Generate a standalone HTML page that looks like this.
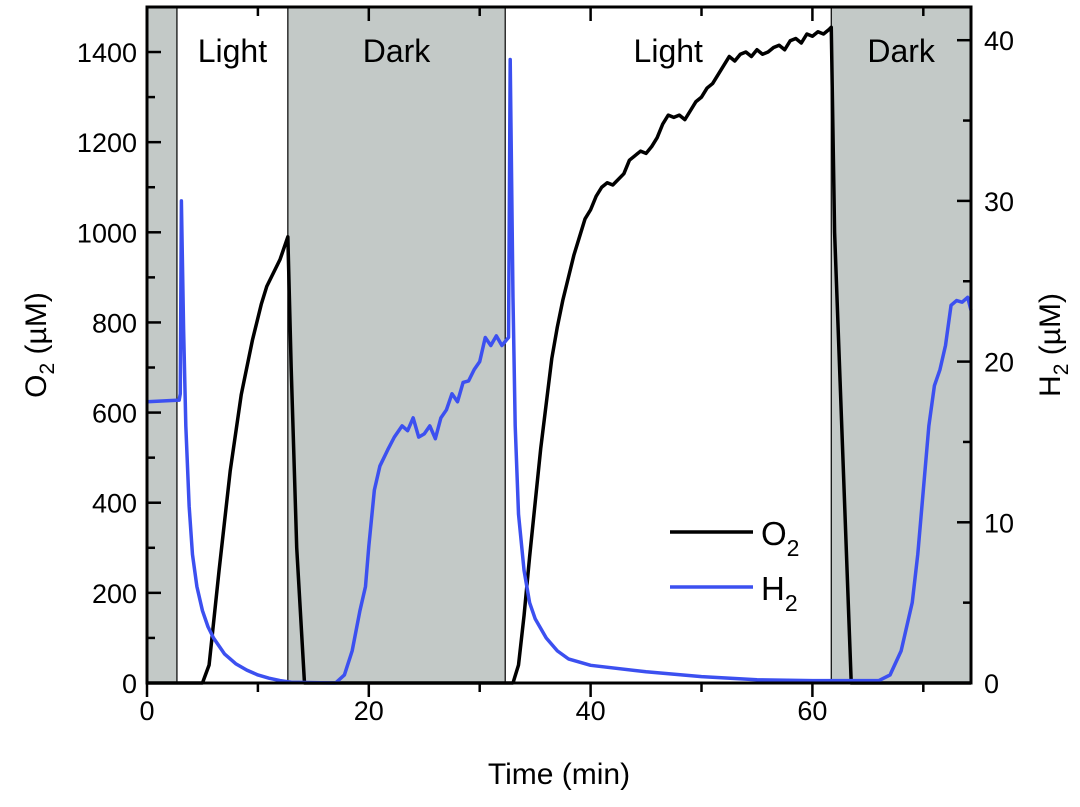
<!DOCTYPE html>
<html><head><meta charset="utf-8"><style>
body{margin:0;background:#fff}
svg text{font-family:"Liberation Sans",Arial,sans-serif;fill:#000}
</style></head><body>
<svg id="chart" width="1080" height="802" viewBox="0 0 1080 802" xmlns="http://www.w3.org/2000/svg">
<g id="shading"></g>
<g id="series"></g>
<g id="axes"></g>
<text x="559" y="784" font-size="30" text-anchor="middle">Time (min)</text>
<text transform="translate(46,345) rotate(-90)" font-size="30" text-anchor="middle">O<tspan font-size="21" dy="8">2</tspan><tspan dy="-8"> (µM)</tspan></text>
<text transform="translate(1042,345) rotate(90)" font-size="30" text-anchor="middle" transform-origin="0 0"></text>
<text transform="translate(1060,345) rotate(-90)" font-size="30" text-anchor="middle">H<tspan font-size="21" dy="8">2</tspan><tspan dy="-8"> (µM)</tspan></text>
<g>
<line x1="670" y1="532" x2="753" y2="532" stroke="#000" stroke-width="3.5"/>
<text x="761" y="545" font-size="33">O<tspan font-size="23" dy="11">2</tspan></text>
<line x1="670" y1="587" x2="753" y2="587" stroke="#3c50f0" stroke-width="3.5"/>
<text x="761" y="600" font-size="33">H<tspan font-size="23" dy="11">2</tspan></text>
</g>
</svg>
<script>
const phaseStarts=[0,2.7,12.7,32.3,61.7];
const phaseEnds=[2.7,12.7,32.3,61.7,74.3];
const phaseLabels=["","Light","Dark","Light","Dark"];
const o2Time=[0,5.0,5.6,6.5,7.5,8.5,9.5,10.3,10.8,11.2,12,12.7,13.0,13.5,14.2,33.0,33.5,34.0,34.5,35.0,35.5,36.0,36.5,37.0,37.5,38.0,38.5,39.0,39.5,40.0,40.5,41,41.5,42,43,43.5,44,44.5,45,45.5,46,46.5,47,47.5,48,48.5,49,49.5,50,50.5,51,51.5,52,52.5,53,53.5,54,54.5,55,55.5,56,56.5,57,57.5,58,58.5,59,59.5,60,60.5,61,61.5,61.7,62.0,63.5,74.3];
const o2Values=[0,0,40,250,470,640,760,840,880,900,940,990,700,300,0,0,40,150,280,400,520,620,720,790,850,900,950,990,1030,1050,1080,1100,1110,1105,1130,1160,1170,1180,1175,1190,1210,1240,1260,1255,1260,1250,1270,1290,1300,1320,1330,1350,1370,1390,1380,1395,1400,1390,1405,1395,1400,1410,1415,1405,1425,1430,1420,1440,1435,1445,1440,1450,1455,1000,0,0];
const h2Time=[0,2.9,3.0,3.1,3.3,3.5,3.8,4.1,4.5,5,5.5,6,7,8,9,10,11,12,13,17,17.8,18.5,19.2,19.7,20.0,20.5,21,21.7,22.3,23,23.5,24,24.5,25,25.5,26,26.5,27,27.5,28,28.5,29,29.5,30,30.5,31,31.5,32,32.6,32.75,33.0,33.2,33.5,34,34.5,35,36,37,38,40,45,50,55,60,66,67,68,69,69.5,70,70.5,71,71.5,72,72.5,73,73.5,74,74.3];
const h2Values=[17.5,17.6,18,30,22,16,11,8,6,4.5,3.5,2.8,1.8,1.2,0.8,0.5,0.3,0.15,0.05,0,0.5,2,4.5,6,8.5,12,13.5,14.5,15.3,16,15.7,16.5,15.3,15.5,16,15.2,16.5,17,18,17.5,18.7,18.8,19.5,20,21.5,21,21.6,21,21.5,38.8,24,16,10.5,7,5,4,2.8,2,1.5,1.1,0.7,0.4,0.2,0.15,0.15,0.5,2,5,8,12,16,18.5,19.5,21,23.5,23.8,23.7,24,23.2];
const xTicks=[0,20,40,60];
const o2Ticks=[0,200,400,600,800,1000,1200,1400];
const h2Ticks=[0,10,20,30,40];

const L=147,R=971,T=7,B=683,XMAX=74.3;
const sx=v=>L+v*(R-L)/XMAX;
const sy=v=>B-v*0.4507;
const sy2=v=>B-v*16.07;
const NS="http://www.w3.org/2000/svg";
function mk(tag,attrs,parent){const e=document.createElementNS(NS,tag);for(const k in attrs)e.setAttribute(k,attrs[k]);parent.appendChild(e);return e;}
const shading=document.getElementById('shading'),series=document.getElementById('series'),axes=document.getElementById('axes');
phaseStarts.forEach((s,i)=>{
  if(i%2===0){const r=mk('rect',{x:sx(s),y:T,width:sx(phaseEnds[i])-sx(s),height:B-T,fill:'#c3c9c7'},shading);
  
  }
  if(i>0){const l=mk('line',{x1:sx(s),x2:sx(s),y1:T,y2:B,stroke:'#000','stroke-width':1.2},shading);
  
  }
  if(phaseLabels[i]){const t=mk('text',{x:(sx(s)+sx(phaseEnds[i]))/2,y:62,'font-size':32,'text-anchor':'middle'},shading);t.textContent=phaseLabels[i];
  
  }
});
const p1=mk('polyline',{points:o2Time.map((t,i)=>sx(t)+','+sy(o2Values[i])).join(' '),fill:'none',stroke:'#000','stroke-width':3.5,'stroke-linejoin':'round'},series);


const p2=mk('polyline',{points:h2Time.map((t,i)=>sx(t)+','+sy2(h2Values[i])).join(' '),fill:'none',stroke:'#3c50f0','stroke-width':3.5,'stroke-linejoin':'round'},series);


const fr=mk('rect',{x:L,y:T,width:R-L,height:B-T,fill:'none',stroke:'#000','stroke-width':3},axes);


for(let v=0;v<=XMAX;v+=10){const maj=v%20===0;const len=maj?14:9;
  const tb=mk('line',{x1:sx(v),x2:sx(v),y1:B,y2:B+len,stroke:'#000','stroke-width':2.5},axes);
  
  
  const tt=mk('line',{x1:sx(v),x2:sx(v),y1:T,y2:T+len,stroke:'#000','stroke-width':2.5},axes);
  
  }
xTicks.forEach(v=>{const t=mk('text',{x:sx(v),y:B+37,'font-size':27,'text-anchor':'middle'},axes);t.textContent=v;

});
for(let v=0;v<=1500;v+=100){const maj=v%200===0;const tk=mk('line',{x1:L,x2:L+(maj?14:8),y1:sy(v),y2:sy(v),stroke:'#000','stroke-width':2.5},axes);

}
o2Ticks.forEach(v=>{const t=mk('text',{x:L-10,y:sy(v)+10,'font-size':27,'text-anchor':'end'},axes);t.textContent=v;

});
for(let v=0;v<=42;v+=5){const maj=v%10===0;const tk=mk('line',{x1:R,x2:R-(maj?14:8),y1:sy2(v),y2:sy2(v),stroke:'#000','stroke-width':2.5},axes);

}
h2Ticks.forEach(v=>{const t=mk('text',{x:R+13,y:sy2(v)+10,'font-size':27,'text-anchor':'start'},axes);t.textContent=v;

});
</script>
</body></html>
